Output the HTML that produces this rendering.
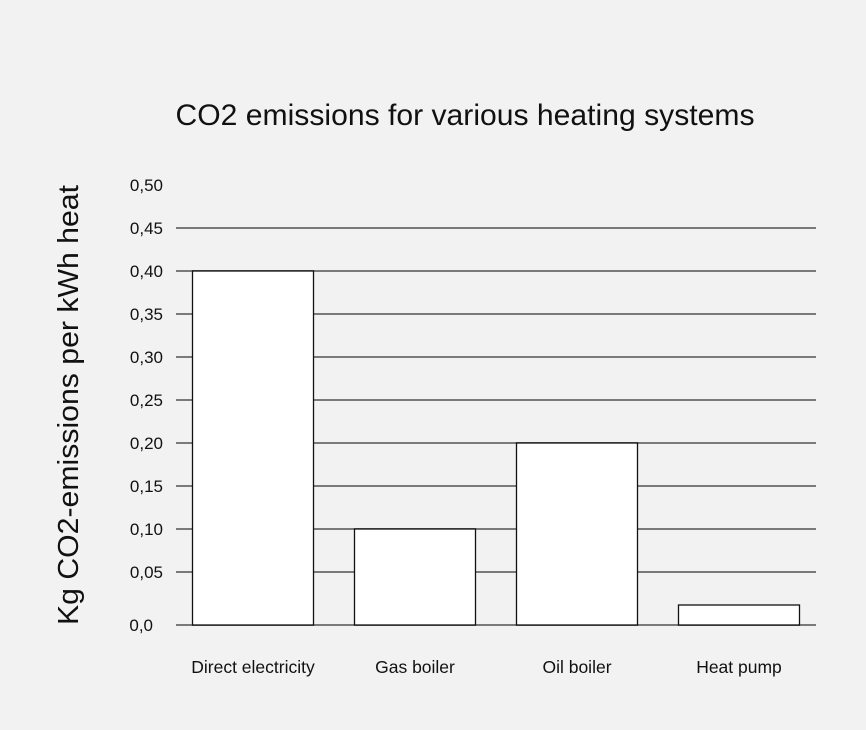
<!DOCTYPE html>
<html><head><style>
body{margin:0;background:#f2f2f2;}
svg{display:block;font-family:"Liberation Sans",Arial,sans-serif;}
</style></head><body>
<svg width="866" height="730" viewBox="0 0 866 730">
<rect width="866" height="730" fill="#f2f2f2"/>
<text x="465" y="125" font-size="30" text-anchor="middle" fill="#111" textLength="579" lengthAdjust="spacingAndGlyphs">CO2 emissions for various heating systems</text>
<text transform="translate(78,405) rotate(-90)" font-size="29" text-anchor="middle" fill="#111" textLength="440" lengthAdjust="spacingAndGlyphs">Kg CO2-emissions per kWh heat</text>
<g stroke="#7a7a7a" stroke-width="2">
<line x1="176" x2="816" y1="228" y2="228"/>
<line x1="176" x2="816" y1="271" y2="271"/>
<line x1="176" x2="816" y1="314" y2="314"/>
<line x1="176" x2="816" y1="357" y2="357"/>
<line x1="176" x2="816" y1="400" y2="400"/>
<line x1="176" x2="816" y1="443" y2="443"/>
<line x1="176" x2="816" y1="486" y2="486"/>
<line x1="176" x2="816" y1="529" y2="529"/>
<line x1="176" x2="816" y1="572" y2="572"/>
<line x1="176" x2="816" y1="625" y2="625"/>
</g>
<g font-size="17" fill="#111" text-anchor="end">
<text x="163" y="191">0,50</text>
<text x="163" y="234">0,45</text>
<text x="163" y="277">0,40</text>
<text x="163" y="320">0,35</text>
<text x="163" y="363">0,30</text>
<text x="163" y="406">0,25</text>
<text x="163" y="449">0,20</text>
<text x="163" y="492">0,15</text>
<text x="163" y="535">0,10</text>
<text x="163" y="578">0,05</text>
<text x="153" y="631">0,0</text>
</g>
<g fill="#fff" stroke="#111" stroke-width="1.3">
<rect x="192.5" y="271" width="121" height="354"/>
<rect x="354.5" y="529" width="121" height="96"/>
<rect x="516.5" y="443" width="121" height="182"/>
<rect x="678.5" y="605" width="121" height="20"/>
</g>
<g font-size="17.5" fill="#111" text-anchor="middle">
<text x="253" y="673">Direct electricity</text>
<text x="415" y="673">Gas boiler</text>
<text x="577" y="673">Oil boiler</text>
<text x="739" y="673">Heat pump</text>
</g>
</svg>
</body></html>
